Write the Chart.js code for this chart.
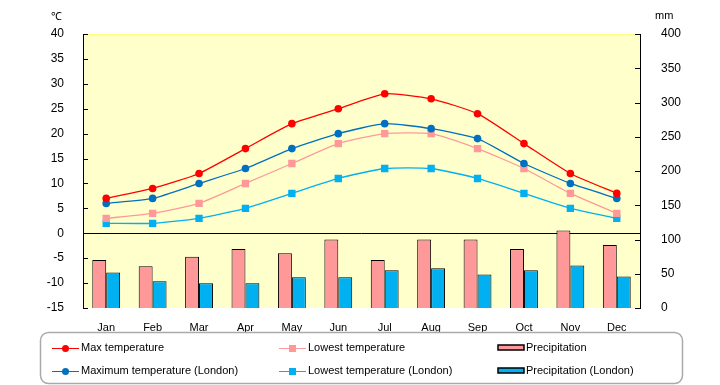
<!DOCTYPE html>
<html>
<head>
<meta charset="utf-8">
<script src="https://cdn.jsdelivr.net/npm/chart.js@4"></script>
<style>
  body { margin: 0; background: #fff; }
</style>
</head>
<body>
<canvas id="climateChart" width="720" height="385"></canvas>
<script>
const months = ["Jan", "Feb", "Mar", "Apr", "May", "Jun", "Jul", "Aug", "Sep", "Oct", "Nov", "Dec"];
const maxTemp = [7, 9, 12, 17, 22, 25, 28, 27, 24, 18, 12, 8];
const lowTemp = [3, 4, 6, 10, 14, 18, 20, 20, 17, 13, 8, 4];
const maxTempLondon = [6, 7, 10, 13, 17, 20, 22, 21, 19, 14, 10, 7];
const lowTempLondon = [2, 2, 3, 5, 8, 11, 13, 13, 11, 8, 5, 3];
const precip = [70, 61, 75, 86, 80, 100, 70, 100, 100, 86, 113, 92];
const precipLondon = [52, 39, 36, 36, 45, 45, 55, 58, 49, 55, 62, 46];
const tempTicks = [-15, 40, 5];   // min, max, step
const rainTicks = [0, 400, 50];

const FONT = "'Liberation Sans', Arial, sans-serif";

// background, zero line, inward tick marks, unit titles, legend box
const decor = {
  id: 'decor',
  beforeDraw(chart) {
    const { ctx, chartArea: a } = chart;
    ctx.save();
    ctx.fillStyle = '#FFFFCC';
    ctx.fillRect(a.left, a.top, a.right - a.left, a.bottom - a.top);
    ctx.strokeStyle = '#FFFF80';
    ctx.lineWidth = 1;
    ctx.beginPath();
    ctx.moveTo(a.left, a.top + 0.5);
    ctx.lineTo(a.right, a.top + 0.5);
    ctx.stroke();
    ctx.restore();
  },
  beforeDatasetsDraw(chart) {
    const { ctx, chartArea: a, scales } = chart;
    ctx.save();
    const y0 = Math.round(scales.y.getPixelForValue(0)) + 0.5;
    ctx.strokeStyle = '#000';
    ctx.lineWidth = 1;
    ctx.beginPath();
    ctx.moveTo(a.left, y0);
    ctx.lineTo(a.right, y0);
    // inward ticks
    scales.y.ticks.forEach(t => {
      const yy = Math.round(scales.y.getPixelForValue(t.value)) + 0.5;
      ctx.moveTo(a.left, yy);
      ctx.lineTo(a.left + 5, yy);
    });
    scales.y1.ticks.forEach(t => {
      const yy = Math.round(scales.y1.getPixelForValue(t.value)) + 0.5;
      ctx.moveTo(a.right, yy);
      ctx.lineTo(a.right - 5, yy);
    });
    ctx.stroke();
    ctx.restore();
  },
  afterDraw(chart) {
    const { ctx } = chart;
    ctx.save();
    ctx.fillStyle = '#000';
    ctx.font = '11px ' + FONT;
    ctx.textBaseline = 'middle';
    ctx.textAlign = 'left';
    ctx.fillText('℃', 51, 17);
    ctx.fillText('mm', 655, 16);

    // legend box
    ctx.strokeStyle = '#AAAAAA';
    ctx.lineWidth = 1.5;
    ctx.beginPath();
    ctx.roundRect(40.5, 332.5, 642, 51, 8);
    ctx.stroke();

    const cols = [52, 279, 498];
    const rows = [348, 371];
    chart.data.datasets.forEach((ds, i) => {
      const x = cols[Math.floor(i / 2)];
      const y = rows[i % 2];
      ctx.lineWidth = 1;
      if (ds.type === 'bar') {
        ctx.fillStyle = ds.backgroundColor;
        ctx.fillRect(x, y - 3, 26, 5);
        ctx.strokeStyle = '#000';
        ctx.lineWidth = 1.5;
        ctx.strokeRect(x, y - 3, 26, 5);
        ctx.fillStyle = '#000';
        ctx.fillText(ds.label, x + 28, y);
      } else {
        ctx.strokeStyle = ds.borderColor;
        ctx.beginPath();
        ctx.moveTo(x, y + 0.5);
        ctx.lineTo(x + 27, y + 0.5);
        ctx.stroke();
        ctx.fillStyle = ds.pointBackgroundColor;
        if (ds.pointStyle === 'rect') {
          ctx.fillRect(x + 10, y - 3, 7, 7);
        } else {
          ctx.beginPath();
          ctx.arc(x + 13.5, y + 0.5, 3.5, 0, Math.PI * 2);
          ctx.fill();
        }
        ctx.fillStyle = '#000';
        ctx.fillText(ds.label, x + 29, y);
      }
    });
    ctx.restore();
  }
};

function lineSet(label, values, color, style, radius) {
  return {
    type: 'line', label: label, data: values, yAxisID: 'y',
    borderColor: color, borderWidth: 1.3, tension: 0.18,
    pointStyle: style, pointRadius: radius,
    pointBackgroundColor: color, pointBorderColor: color, pointBorderWidth: 0,
    order: 0
  };
}

function barSet(label, values, color) {
  return {
    type: 'bar', label: label, data: values, yAxisID: 'y1',
    backgroundColor: color, borderColor: '#000', borderWidth: 1,
    categoryPercentage: 0.6, barPercentage: 1.0,
    order: 5
  };
}

new Chart(document.getElementById('climateChart'), {
  data: {
    labels: months,
    datasets: [
      lineSet('Max temperature', maxTemp, '#FF0000', 'circle', 3.8),
      lineSet('Maximum temperature (London)', maxTempLondon, '#0070C0', 'circle', 3.8),
      lineSet('Lowest temperature', lowTemp, '#FF9999', 'rect', 5.2),
      lineSet('Lowest temperature (London)', lowTempLondon, '#00B0F0', 'rect', 5.2),
      barSet('Precipitation', precip, '#FF9999'),
      barSet('Precipitation (London)', precipLondon, '#00B0F0')
    ]
  },
  options: {
    responsive: false,
    animation: false,
    devicePixelRatio: 1,
    layout: { padding: { top: 34, left: 0, right: 0, bottom: 0 } },
    plugins: { legend: { display: false }, tooltip: { enabled: false } },
    scales: {
      x: {
        offset: true,
        grid: { display: false },
        border: { display: false },
        ticks: { color: '#000', font: { family: FONT, size: 11 }, padding: 5 },
        afterFit(s) { s.height = 77; }
      },
      y: {
        position: 'left',
        min: tempTicks[0], max: tempTicks[1],
        ticks: { stepSize: tempTicks[2], color: '#000', font: { family: FONT, size: 12 }, padding: 11 },
        grid: { display: false },
        border: { color: '#000', width: 1 },
        afterFit(s) { s.width = 83; }
      },
      y1: {
        position: 'right',
        min: rainTicks[0], max: rainTicks[1],
        ticks: { stepSize: rainTicks[2], color: '#000', font: { family: FONT, size: 12 }, padding: 13 },
        grid: { display: false },
        border: { color: '#000', width: 1 },
        afterFit(s) { s.width = 80; }
      }
    }
  },
  plugins: [decor]
});
</script>
</body>
</html>
